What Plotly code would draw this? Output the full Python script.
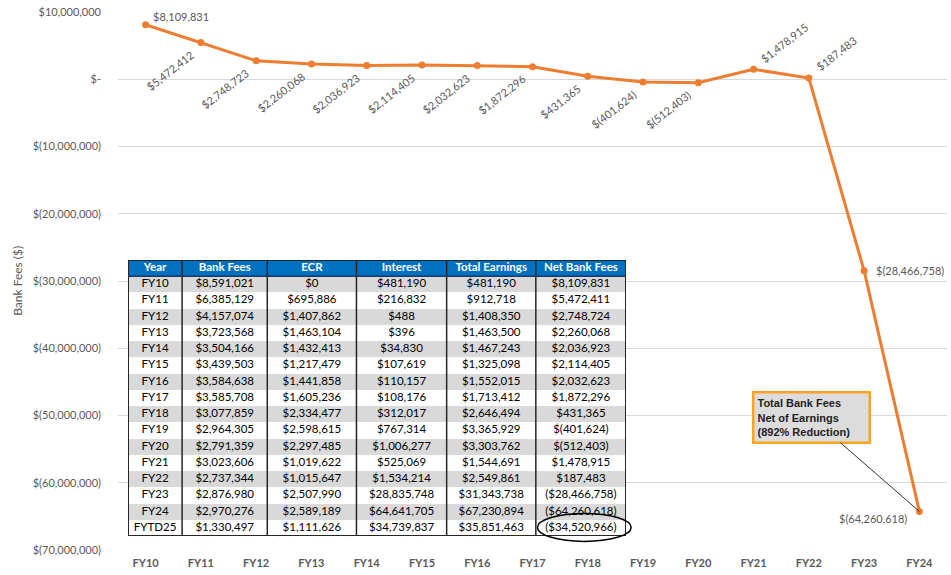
import plotly.graph_objects as go

# ---- chart data ----
years = ["FY10", "FY11", "FY12", "FY13", "FY14", "FY15", "FY16", "FY17",
         "FY18", "FY19", "FY20", "FY21", "FY22", "FY23", "FY24"]
net_fees = [8109831, 5472412, 2748723, 2260068, 2036923, 2114405, 2032623, 1872296,
            431365, -401624, -512403, 1478915, 187483, -28466758, -64260618]

y_ticks = [10000000, 0, -10000000, -20000000, -30000000, -40000000, -50000000, -60000000, -70000000]
y_tick_labels = ["$10,000,000", "$-", "$(10,000,000)", "$(20,000,000)", "$(30,000,000)",
                 "$(40,000,000)", "$(50,000,000)", "$(60,000,000)", "$(70,000,000)"]

# ---- table data ----
tbl_headers = ["Year", "Bank Fees", "ECR", "Interest", "Total Earnings", "Net Bank Fees"]
tbl_year = ["FY10", "FY11", "FY12", "FY13", "FY14", "FY15", "FY16", "FY17", "FY18",
            "FY19", "FY20", "FY21", "FY22", "FY23", "FY24", "FYTD25"]
tbl_bank_fees = ["$8,591,021", "$6,385,129", "$4,157,074", "$3,723,568", "$3,504,166", "$3,439,503",
                 "$3,584,638", "$3,585,708", "$3,077,859", "$2,964,305", "$2,791,359", "$3,023,606",
                 "$2,737,344", "$2,876,980", "$2,970,276", "$1,330,497"]
tbl_ecr = ["$0", "$695,886", "$1,407,862", "$1,463,104", "$1,432,413", "$1,217,479", "$1,441,858",
           "$1,605,236", "$2,334,477", "$2,598,615", "$2,297,485", "$1,019,622", "$1,015,647",
           "$2,507,990", "$2,589,189", "$1,111,626"]
tbl_interest = ["$481,190", "$216,832", "$488", "$396", "$34,830", "$107,619", "$110,157", "$108,176",
                "$312,017", "$767,314", "$1,006,277", "$525,069", "$1,534,214", "$28,835,748",
                "$64,641,705", "$34,739,837"]
tbl_total = ["$481,190", "$912,718", "$1,408,350", "$1,463,500", "$1,467,243", "$1,325,098",
             "$1,552,015", "$1,713,412", "$2,646,494", "$3,365,929", "$3,303,762", "$1,544,691",
             "$2,549,861", "$31,343,738", "$67,230,894", "$35,851,463"]
tbl_net = ["$8,109,831", "$5,472,411", "$2,748,724", "$2,260,068", "$2,036,923", "$2,114,405",
           "$2,032,623", "$1,872,296", "$431,365", "$(401,624)", "$(512,403)", "$1,478,915",
           "$187,483", "($28,466,758)", "($64,260,618)", "($34,520,966)"]

# ---- styling / layout ----
ORANGE = "#ED7D31"
GRAY_TXT = "#595959"
FONT = "Lato, Open Sans, sans-serif"
col_widths = [54, 85, 89, 90, 89, 90]


def fmt(v):
    return f"${v:,}" if v >= 0 else f"$({-v:,})"


fig = go.Figure()

fig.add_trace(go.Scatter(
    x=years, y=net_fees, mode="lines+markers",
    line=dict(color=ORANGE, width=3),
    marker=dict(color=ORANGE, size=7),
    hoverinfo="skip", showlegend=False,
))

# ---- table built on its own hidden axes ----
columns = [tbl_year, tbl_bank_fees, tbl_ecr, tbl_interest, tbl_total, tbl_net]
n_rows = len(tbl_year) + 1
edges = [0]
for w in col_widths:
    edges.append(edges[-1] + w)
centers = [(edges[i] + edges[i + 1]) / 2 for i in range(len(col_widths))]

z = [[2] * len(columns)]
for r in range(len(tbl_year)):
    z.append([1 if r % 2 == 0 else 0] * len(columns))

fig.add_trace(go.Heatmap(
    z=z, x=edges, y=list(range(n_rows + 1)), xaxis="x2", yaxis="y2",
    colorscale=[[0, "#FFFFFF"], [0.5, "#D9D9D9"], [1, "#0070C0"]], zmin=0, zmax=2,
    showscale=False, hoverinfo="skip",
))

tx, ty, tt, tc = [], [], [], []
for c, col in enumerate(columns):
    tx.append(centers[c]); ty.append(0.5); tt.append(f"<b>{tbl_headers[c]}</b>"); tc.append("#FFFFFF")
    for r, val in enumerate(col):
        tx.append(centers[c]); ty.append(r + 1.5); tt.append(val); tc.append("#000000")
fig.add_trace(go.Scatter(
    x=tx, y=ty, text=tt, mode="text", xaxis="x2", yaxis="y2",
    textfont=dict(family=FONT, size=11.5, color=tc), textposition="middle center",
    hoverinfo="skip", showlegend=False,
))

shapes = []
for e in edges[1:-1]:
    shapes.append(dict(type="line", xref="x2", yref="y2", x0=e, x1=e, y0=0, y1=n_rows,
                       line=dict(color="#262626", width=1.5)))
shapes.append(dict(type="rect", xref="x2", yref="y2", x0=0, x1=edges[-1], y0=0, y1=n_rows,
                   line=dict(color="#262626", width=2)))
shapes.append(dict(type="line", xref="x2", yref="y2", x0=0, x1=edges[-1], y0=1, y1=1,
                   line=dict(color="#1F3864", width=1.5)))
shapes.append(dict(type="circle", xref="paper", yref="paper",
                   x0=0.506, x1=0.619, y0=0.016, y1=0.068,
                   line=dict(color="#000000", width=1.5), layer="above"))

annotations = []
for i, (yr, v) in enumerate(zip(years, net_fees)):
    txt = fmt(v)
    if i == 0:
        a = dict(textangle=0, xanchor="left", yanchor="bottom", xshift=5, yshift=0)
    elif i in (11, 12):
        a = dict(textangle=-38, xanchor="left", yanchor="bottom", xshift=2, yshift=2)
    elif i == 13:
        a = dict(textangle=0, xanchor="left", yanchor="middle", xshift=10, yshift=0)
    elif i == 14:
        a = dict(textangle=0, xanchor="right", yanchor="top", xshift=-10, yshift=1)
    else:
        a = dict(textangle=-38, xanchor="right", yanchor="top", xshift=-2, yshift=-3)
    annotations.append(dict(x=yr, y=v, xref="x", yref="y", text=txt, showarrow=False,
                            font=dict(family=FONT, size=11, color=GRAY_TXT), **a))

annotations.append(dict(
    x="FY24", y=net_fees[-1], xref="x", yref="y",
    text="<b>Total Bank Fees<br>Net of Earnings<br>(892% Reduction)</b>",
    showarrow=True, arrowhead=0, arrowwidth=1, arrowcolor="#333333",
    ax=-108, ay=-94, align="left", width=108, height=42,
    font=dict(family="Liberation Sans, Arial, sans-serif", size=11, color="#222222"),
    bgcolor="#DCDCDC", bordercolor="#FFA21F", borderwidth=2.5, borderpad=3,
))

annotations.append(dict(
    x=-0.122, y=0.5, xref="paper", yref="paper", text="Bank Fees ($)", textangle=-90,
    showarrow=False, xanchor="center", yanchor="middle",
    font=dict(family=FONT, size=12, color=GRAY_TXT),
))

fig.update_layout(
    width=951, height=575,
    margin=dict(l=118, r=4, t=12, b=25),
    paper_bgcolor="white", plot_bgcolor="white",
    annotations=annotations, shapes=shapes, showlegend=False,
    xaxis=dict(type="category", range=[-0.5, 14.5], showgrid=False, zeroline=False,
               showline=False, ticks="", ticklabelstandoff=5,
               tickfont=dict(family=FONT, size=11, color=GRAY_TXT, weight="bold")),
    yaxis=dict(range=[-70000000, 10000000], tickvals=y_ticks, ticktext=y_tick_labels,
               showgrid=True, gridcolor="#D9D9D9", gridwidth=1.3, zeroline=False,
               showline=False, ticks="", ticklabelstandoff=16,
               tickfont=dict(family=FONT, size=11, color=GRAY_TXT)),
    xaxis2=dict(domain=[0.01206, 0.6128], range=[0, edges[-1]], anchor="y2", visible=False,
                fixedrange=True),
    yaxis2=dict(domain=[0.026, 0.539], range=[n_rows, 0], anchor="x2", visible=False,
                fixedrange=True),
)

fig.write_html("out.html", config={"displayModeBar": False},
               post_script="document.body.style.margin='0';")
